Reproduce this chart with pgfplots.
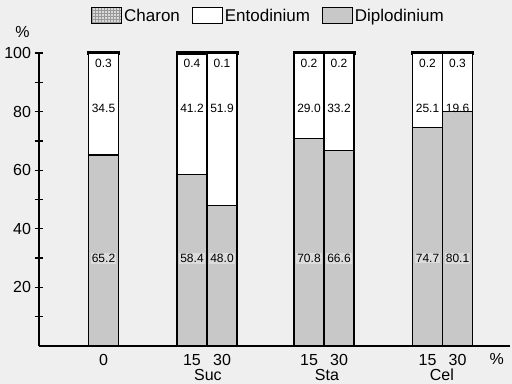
\documentclass[border=0pt]{standalone}
\usepackage{fontspec}
\setmainfont{Liberation Sans}
\usepackage{pgfplots}
\usepackage{pgfplotstable}
\pgfplotsset{compat=1.18}
\usetikzlibrary{patterns}

\definecolor{paper}{HTML}{EFEFEF}
\definecolor{dipfill}{HTML}{C8C8C8}
\definecolor{labfill}{HTML}{DCDCDC}

% bar position (in bar widths), tick label, Diplodinium, Entodinium, Charon (%)
\pgfplotstableread{
x     lab dip  ent  cha
2.15  0   65.2 34.5 0.3
5.10  15  58.4 41.2 0.4
6.10  30  48.0 51.9 0.1
9.00  15  70.8 29.0 0.2
10.00 30  66.6 33.2 0.2
12.95 15  74.7 25.1 0.2
13.95 30  80.1 19.6 0.3
}\datatable

\pgfplotsset{
  frame/.style={
    at={(39bp,38bp)}, anchor=south west,
    scale only axis, width=471bp, height=293bp,
    xmin=0, xmax=15.7, ymin=0, ymax=100, clip=false,
  },
}

\begin{document}
\begin{tikzpicture}
\fill[paper] (0,0) rectangle (512bp,384bp);

\begin{axis}[
  frame,
  ybar stacked, bar width=1,
  axis x line=bottom, axis y line=left,
  axis line style={-, line width=1.3bp, black},
  xtick={2.15,5.1,6.1,9,10,12.95,13.95},
  xticklabels={0,15,30,15,30,15,30},
  extra x ticks={5.63,9.6,13.43},
  extra x tick labels={Suc,Sta,Cel},
  extra x tick style={tick label style={yshift=-15bp}},
  xtick style={draw=none},
  ytick={20,40,60,80,100},
  minor ytick={10,30,50,70,90},
  tick align=center,
  major tick length=9bp, minor tick length=9bp,
  ytick style={line width=1.3bp, black},
  minor tick style={line width=1.3bp, black},
  /pgf/number format/assume math mode=true,
  tick label style={font=\fontsize{16bp}{18bp}\selectfont},
  ylabel={\%},
  ylabel style={rotate=-90, at={(axis description cs:-0.035,1.07)}, anchor=center,
    font=\fontsize{16bp}{18bp}\selectfont},
  xlabel={\%},
  xlabel style={at={(axis description cs:0.972,-0.044)}, anchor=center,
    font=\fontsize{16bp}{18bp}\selectfont},
  reverse legend,
  legend columns=-1,
  legend style={at={(0.104,1.165)}, anchor=north west, draw=none, fill=none,
    font=\fontsize{17bp}{18bp}\selectfont,
    /tikz/every even column/.append style={column sep=10bp}},
]
\addplot[fill=dipfill, draw=black, line width=1.2bp,
  legend image code/.code={\draw[fill=dipfill, line width=1bp] (0bp,-8bp) rectangle (30bp,8bp);}]
  table[x=x, y=dip] {\datatable};
\addlegendentry{Diplodinium}
\addplot[fill=white, draw=black, line width=1.2bp,
  legend image code/.code={\draw[fill=white, line width=1bp] (0bp,-8bp) rectangle (30bp,8bp);}]
  table[x=x, y=ent] {\datatable};
\addlegendentry{Entodinium}
\addplot[fill=black, draw=black, line width=3bp,
  legend image code/.code={\draw[fill=gray!30, postaction={pattern=grid, pattern color=gray!80}, line width=1bp] (0bp,-8bp) rectangle (30bp,8bp);}]
  table[x=x, y=cha] {\datatable};
\addlegendentry{Charon}
\end{axis}

% value labels, set at fixed heights inside the bars
\begin{axis}[frame, hide axis]
\addplot[draw=none, mark=none, nodes near coords, point meta=explicit symbolic,
  every node near coord/.append style={anchor=center, fill=labfill, inner sep=1.2bp,
    font=\fontsize{12bp}{12bp}\selectfont}]
  table[x=x, y expr=30, meta=dip] {\datatable};
\addplot[draw=none, mark=none, nodes near coords, point meta=explicit symbolic,
  every node near coord/.append style={anchor=center, inner sep=1bp,
    font=\fontsize{12bp}{12bp}\selectfont}]
  table[x=x, y expr=81, meta=ent] {\datatable};
\addplot[draw=none, mark=none, nodes near coords, point meta=explicit symbolic,
  every node near coord/.append style={anchor=center, inner sep=1bp,
    font=\fontsize{12bp}{12bp}\selectfont}]
  table[x=x, y expr=96.5, meta=cha] {\datatable};
\end{axis}

\pgfresetboundingbox
\useasboundingbox (0,0) rectangle (512bp,384bp);
\end{tikzpicture}
\end{document}
